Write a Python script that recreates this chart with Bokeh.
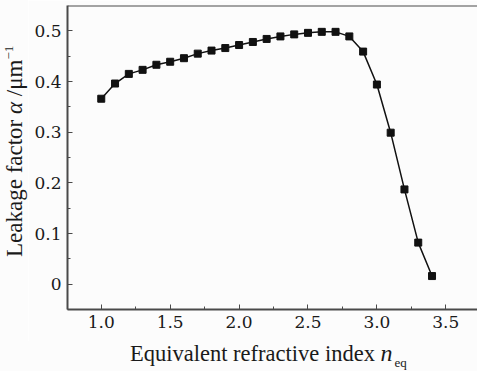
from bokeh.plotting import figure
from bokeh.models import FixedTicker, Span, Range1d, Div
from bokeh.layouts import row, column
from bokeh.embed import file_html
from bokeh.resources import INLINE

n_eq = [1.0, 1.1, 1.2, 1.3, 1.4, 1.5, 1.6, 1.7, 1.8, 1.9, 2.0, 2.1, 2.2, 2.3,
        2.4, 2.5, 2.6, 2.7, 2.8, 2.9, 3.0, 3.1, 3.2, 3.3, 3.4]
alpha = [0.366, 0.396, 0.415, 0.423, 0.433, 0.439, 0.446, 0.455, 0.461, 0.466,
         0.472, 0.478, 0.484, 0.489, 0.493, 0.496, 0.498, 0.498, 0.489, 0.459,
         0.394, 0.299, 0.187, 0.082, 0.016]

x_ticks = [1.0, 1.5, 2.0, 2.5, 3.0, 3.5]
x_minor = [0.75, 1.25, 1.75, 2.25, 2.75, 3.25]
y_ticks = [0.0, 0.1, 0.2, 0.3, 0.4, 0.5]
y_minor = [-0.05, 0.05, 0.15, 0.25, 0.35, 0.45]

TFONT = "'Liberation Serif', serif"
NFONT = "DejaVu Serif"
AX = "#4a4a4a"
TXT = "#1a1a1a"
BG = "#fcfcfc"
W, H = 477, 371
YW = 28          # width of y-title strip
XH = 30          # height of x-title strip

p = figure(width=W - YW, height=H - XH, output_backend="svg",
           toolbar_location=None,
           x_range=Range1d(0.755, 3.73), y_range=Range1d(-0.05, 0.55),
           min_border_left=67 - YW, min_border_right=0, min_border_top=5,
           min_border_bottom=32)
p.background_fill_color = BG
p.border_fill_color = BG
p.outline_line_color = None
p.grid.visible = False

p.line(n_eq, alpha, line_color="#111111", line_width=1.5)
p.scatter(n_eq, alpha, marker="square", size=7, fill_color="#111111",
          line_color="#111111")

for ax in (p.xaxis[0], p.yaxis[0]):
    ax.axis_line_color = AX
    ax.axis_line_width = 2
    ax.major_tick_line_color = AX
    ax.minor_tick_line_color = AX
    ax.major_tick_in = 5
    ax.major_tick_out = 0
    ax.minor_tick_in = 3
    ax.minor_tick_out = 0
    ax.major_label_text_font = NFONT
    ax.major_label_text_font_size = "17px"
    ax.major_label_text_color = TXT

p.xaxis[0].ticker = FixedTicker(ticks=x_ticks, minor_ticks=x_minor)
p.yaxis[0].ticker = FixedTicker(ticks=y_ticks, minor_ticks=y_minor)
p.xaxis[0].major_label_overrides = {t: f"{t:.1f}" for t in x_ticks}
p.yaxis[0].major_label_overrides = {t: ("0" if t == 0 else f"{t:.1f}") for t in y_ticks}
p.xaxis[0].major_label_standoff = 6
p.yaxis[0].major_label_standoff = 6

p.add_layout(Span(location=0.55, dimension="width", line_color=AX, line_width=2))

base = f"font-family:{TFONT};font-size:23px;color:{TXT};white-space:nowrap;line-height:23px;"

ytitle = Div(width=YW, height=H - XH, margin=0,
             styles={"background-color": BG, "overflow": "visible"},
             text=(f'<div style="position:absolute;left:3px;top:257px;'
                   f'transform-origin:0 0;transform:rotate(-90deg);{base}">'
                   'Leakage factor <i>α</i> /μm'
                   '<span style="font-size:13px;position:relative;top:-9px;">−1</span>'
                   '</div>'))

xtitle = Div(width=W, height=XH, margin=0,
             styles={"background-color": BG},
             text=(f'<div style="padding-left:130px;padding-top:1px;{base}font-size:22.5px;">'
                   'Equivalent refractive index <i style="font-size:24px;">n</i>'
                   '<span style="font-size:13px;position:relative;top:6px;margin-left:2px;">eq</span>'
                   '</div>'))

layout = column(row(ytitle, p, spacing=0), xtitle, spacing=0)

open("out.html", "w").write(file_html(layout, INLINE))
